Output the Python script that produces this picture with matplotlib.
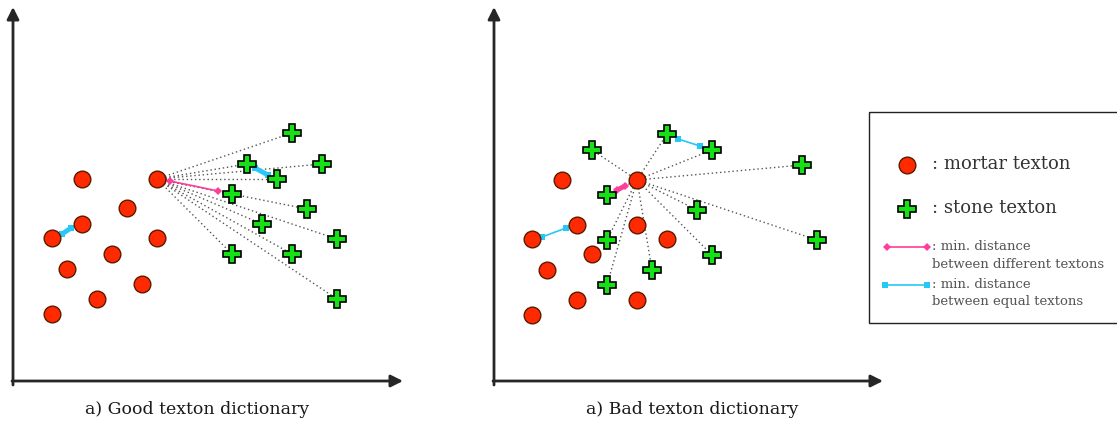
import matplotlib
matplotlib.use('Agg')
import matplotlib.pyplot as plt
from matplotlib.patches import Rectangle

# Positions of textons in image pixel coordinates (x right, y down)
good_mortar_x = [82, 157, 127, 82, 52, 157, 112, 67, 142, 97, 52]
good_mortar_y = [179, 179, 208, 224, 238, 238, 254, 269, 284, 299, 314]
good_stone_x = [292, 247, 322, 277, 232, 307, 262, 337, 232, 292, 337]
good_stone_y = [133, 164, 164, 179, 194, 209, 224, 239, 254, 254, 299]
good_hub = (157, 179)
good_pink = ([170, 218], [181, 191])
good_cyan = [([255, 268], [168, 175]), ([62, 71], [234, 228])]

bad_mortar_x = [562, 637, 577, 637, 532, 667, 592, 547, 577, 637, 532]
bad_mortar_y = [180, 180, 225, 225, 239, 239, 254, 270, 300, 300, 315]
bad_stone_x = [667, 592, 712, 802, 607, 697, 607, 817, 712, 652, 607]
bad_stone_y = [134, 150, 150, 165, 195, 210, 240, 240, 255, 270, 285]
bad_hub = (637, 180)
bad_pink = ([617, 625], [190, 186])
bad_cyan = [([542, 566], [237, 228]), ([678, 700], [139, 146])]

captions = ["a) Good texton dictionary", "a) Bad texton dictionary"]
caption_x = [197, 692]

RED = '#ff2a00'
RED_EDGE = '#5a1a00'
GREEN = '#16e016'
PINK = '#ff3d9a'
CYAN = '#27c8f5'
FONT = 'DejaVu Serif'

fig = plt.figure(figsize=(11.17, 4.23), dpi=100)
ax = fig.add_axes([0, 0, 1, 1])
ax.set_xlim(0, 1117)
ax.set_ylim(423, 0)
ax.axis('off')


def draw_panel(x0, x_tip, mx, my, sx, sy, hub, pink, cyan, lw_pink, lw_cyan):
    # axes arrows
    ax.annotate('', xy=(x0, 7), xytext=(x0, 385),
                arrowprops=dict(arrowstyle='-|>', lw=2.0, color='#262626',
                                mutation_scale=18, shrinkA=0, shrinkB=0))
    ax.annotate('', xy=(x_tip, 381), xytext=(x0 - 1, 381),
                arrowprops=dict(arrowstyle='-|>', lw=2.0, color='#262626',
                                mutation_scale=18, shrinkA=0, shrinkB=0))
    # dotted lines from hub to every stone texton
    for x, y in zip(sx, sy):
        ax.plot([hub[0], x], [hub[1], y], linestyle=(0, (1, 2)), color='#555555',
                lw=1.0, zorder=1)
    ax.plot(pink[0], pink[1], color=PINK, lw=lw_pink, marker='D', markersize=4,
            markeredgewidth=0, zorder=2)
    for cx, cy in cyan:
        ax.plot(cx, cy, color=CYAN, lw=lw_cyan, marker='s', markersize=5,
                markeredgewidth=0, zorder=2)
    ax.plot(mx, my, 'o', color=RED, markeredgecolor=RED_EDGE, markeredgewidth=1.0,
            markersize=12, linestyle='none', zorder=3)
    ax.plot(sx, sy, 'P', color=GREEN, markeredgecolor='black', markeredgewidth=1.2,
            markersize=13, linestyle='none', zorder=3)


draw_panel(13, 403, good_mortar_x, good_mortar_y, good_stone_x, good_stone_y,
           good_hub, good_pink, good_cyan, 1.2, 3.5)
draw_panel(494, 883, bad_mortar_x, bad_mortar_y, bad_stone_x, bad_stone_y,
           bad_hub, bad_pink, bad_cyan, 3.5, 1.2)

for cx, text in zip(caption_x, captions):
    ax.text(cx, 410, text, ha='center', va='center', fontsize=12.5,
            family=FONT, color='#1a1a1a')

# legend box
ax.add_patch(Rectangle((869, 112), 270, 211, fill=False, edgecolor='#222222',
                       lw=1.0, zorder=1))
ax.plot([907], [165], 'o', color=RED, markeredgecolor=RED_EDGE,
        markeredgewidth=1.0, markersize=12)
ax.plot([907], [209], 'P', color=GREEN, markeredgecolor='black',
        markeredgewidth=1.2, markersize=13)
ax.plot([887, 927], [247, 247], color=PINK, lw=1.2, marker='D', markersize=4,
        markeredgewidth=0)
ax.plot([885, 927], [285, 285], color=CYAN, lw=1.2, marker='s', markersize=5,
        markeredgewidth=0)
ax.text(932, 164, ': mortar texton', fontsize=13, family=FONT, va='center',
        color='#333333')
ax.text(932, 208, ': stone texton', fontsize=13, family=FONT, va='center',
        color='#333333')
ax.text(932, 247, ': min. distance', fontsize=9.5, family=FONT, va='center',
        color='#555555')
ax.text(932, 264, 'between different textons', fontsize=9.5, family=FONT,
        va='center', color='#555555')
ax.text(932, 285, ': min. distance', fontsize=9.5, family=FONT, va='center',
        color='#555555')
ax.text(932, 302, 'between equal textons', fontsize=9.5, family=FONT,
        va='center', color='#555555')

fig.savefig('out.png', dpi=100)
